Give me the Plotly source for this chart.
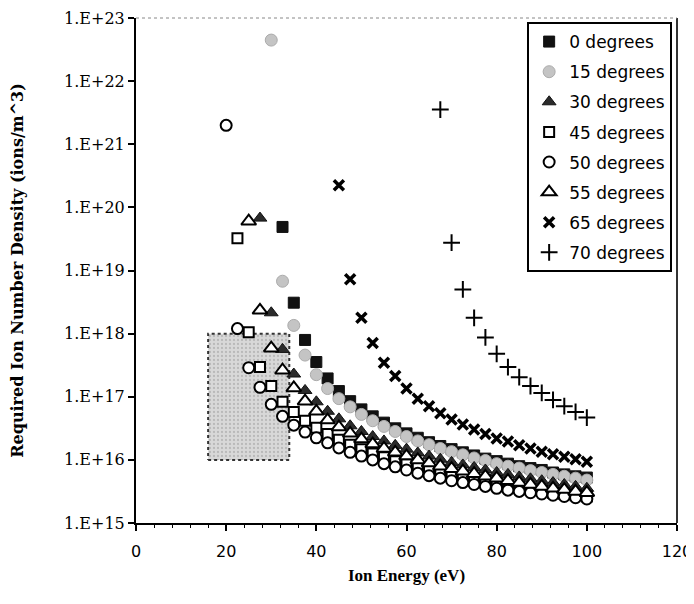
import plotly.graph_objects as go

# Ion energy grid (eV) used by all series; each series covers the tail of this grid
ENERGY = [20.0, 22.5, 25.0, 27.5, 30.0, 32.5, 35.0, 37.5, 40.0, 42.5, 45.0, 47.5,
          50.0, 52.5, 55.0, 57.5, 60.0, 62.5, 65.0, 67.5, 70.0, 72.5, 75.0, 77.5,
          80.0, 82.5, 85.0, 87.5, 90.0, 92.5, 95.0, 97.5, 100.0]

SERIES_NAMES = ["0 degrees", "15 degrees", "30 degrees", "45 degrees",
                "50 degrees", "55 degrees", "65 degrees", "70 degrees"]

# log10 of required ion number density (ions/m^3)
LOG_DENSITY_0 = [19.69, 18.49, 17.90, 17.55, 17.29, 17.09, 16.93, 16.80, 16.69, 16.59,
                 16.50, 16.42, 16.35, 16.28, 16.22, 16.17, 16.12, 16.07, 16.02, 15.98,
                 15.94, 15.90, 15.87, 15.84, 15.80, 15.77, 15.74, 15.72]
LOG_DENSITY_15 = [22.65, 18.83, 18.13, 17.66, 17.35, 17.13, 16.97, 16.84, 16.72, 16.62,
                  16.53, 16.45, 16.37, 16.30, 16.24, 16.18, 16.13, 16.08, 16.03, 15.99,
                  15.94, 15.90, 15.87, 15.83, 15.80, 15.77, 15.74, 15.71, 15.68]
LOG_DENSITY_30 = [19.83, 18.33, 17.75, 17.36, 17.10, 16.92, 16.77, 16.65, 16.54, 16.45,
                  16.37, 16.30, 16.23, 16.17, 16.11, 16.06, 16.01, 15.96, 15.92, 15.88,
                  15.84, 15.80, 15.77, 15.73, 15.70, 15.67, 15.64, 15.61, 15.58, 15.55]
LOG_DENSITY_45 = [19.51, 18.02, 17.47, 17.17, 16.92, 16.76, 16.62, 16.51, 16.41, 16.32,
                  16.24, 16.17, 16.10, 16.04, 15.98, 15.93, 15.88, 15.83, 15.79, 15.75,
                  15.71, 15.68, 15.64, 15.61, 15.58, 15.56, 15.53, 15.51, 15.48, 15.46,
                  15.44, 15.42]
LOG_DENSITY_50 = [21.30, 18.08, 17.46, 17.15, 16.88, 16.69, 16.55, 16.44, 16.35, 16.27,
                  16.19, 16.12, 16.06, 16.00, 15.94, 15.89, 15.84, 15.79, 15.75, 15.71,
                  15.67, 15.64, 15.61, 15.58, 15.55, 15.52, 15.50, 15.48, 15.46, 15.44,
                  15.42, 15.40, 15.38]
LOG_DENSITY_55 = [19.78, 18.37, 17.77, 17.42, 17.14, 16.93, 16.77, 16.63, 16.52, 16.42,
                  16.33, 16.25, 16.18, 16.12, 16.06, 16.00, 15.95, 15.90, 15.86, 15.82,
                  15.78, 15.74, 15.71, 15.67, 15.64, 15.61, 15.58, 15.55, 15.53, 15.50,
                  15.48]
LOG_DENSITY_65 = [20.35, 18.86, 18.25, 17.85, 17.54, 17.33, 17.13, 16.97, 16.85, 16.74,
                  16.64, 16.56, 16.48, 16.41, 16.34, 16.29, 16.23, 16.18, 16.13, 16.09,
                  16.05, 16.01, 15.97]
LOG_DENSITY_70 = [21.55, 19.44, 18.70, 18.25, 17.94, 17.68, 17.47, 17.31, 17.17, 17.06,
                  16.95, 16.85, 16.76, 16.67]

# Highlighted region (grey box)
BOX_ENERGY = [16.0, 34.0]
BOX_DENSITY = [1e16, 1e18]

Y_TICK_VALUES = [1e15, 1e16, 1e17, 1e18, 1e19, 1e20, 1e21, 1e22, 1e23]
Y_TICK_TEXT = ["1.E+15", "1.E+16", "1.E+17", "1.E+18", "1.E+19", "1.E+20",
               "1.E+21", "1.E+22", "1.E+23"]
X_TICK_VALUES = [0, 20, 40, 60, 80, 100, 120]

ALL_LOGS = [LOG_DENSITY_0, LOG_DENSITY_15, LOG_DENSITY_30, LOG_DENSITY_45,
            LOG_DENSITY_50, LOG_DENSITY_55, LOG_DENSITY_65, LOG_DENSITY_70]

STYLES = [
    dict(symbol="square", size=11, color="#111111", line=dict(color="#111111", width=1)),
    dict(symbol="circle", size=12, color="#c4c4c4", line=dict(color="#ababab", width=1)),
    dict(symbol="triangle-up", size=12, color="#2b2b2b", line=dict(color="#111111", width=1)),
    dict(symbol="square", size=10, color="white", line=dict(color="black", width=2)),
    dict(symbol="circle", size=11, color="white", line=dict(color="black", width=2)),
    dict(symbol="triangle-up", size=13, color="white", line=dict(color="black", width=2)),
    dict(symbol="x-thin", size=10, color="black", line=dict(color="black", width=3.5)),
    dict(symbol="cross-thin", size=12, color="black", line=dict(color="black", width=2)),
]

fig = go.Figure()

# grey highlighted box
fig.add_trace(go.Scatter(
    x=[BOX_ENERGY[0], BOX_ENERGY[1], BOX_ENERGY[1], BOX_ENERGY[0], BOX_ENERGY[0]],
    y=[BOX_DENSITY[0], BOX_DENSITY[0], BOX_DENSITY[1], BOX_DENSITY[1], BOX_DENSITY[0]],
    mode="lines", fill="toself",
    fillcolor="#d4d4d4",
    fillpattern=dict(shape=".", bgcolor="#d8d8d8", fgcolor="#9a9a9a", size=4, solidity=0.25),
    line=dict(color="#333333", width=2, dash="dot"),
    showlegend=False, hoverinfo="skip",
))

for name, logs, st in zip(SERIES_NAMES, ALL_LOGS, STYLES):
    xs = ENERGY[len(ENERGY) - len(logs):]
    ys = [10 ** v for v in logs]
    fig.add_trace(go.Scatter(
        x=xs, y=ys, mode="markers", name=name, legendgroup=name,
        marker=st,
    ))

# The page body has an 8px margin, so the figure is drawn 8px in from the window corner.
fig.update_layout(
    width=686, height=596,
    margin=dict(l=128, r=17, t=10, b=81, autoexpand=False),
    paper_bgcolor="white", plot_bgcolor="white",
    showlegend=True,
    legend=dict(
        x=0.723, y=0.992, xanchor="left", yanchor="top",
        bgcolor="white", bordercolor="black", borderwidth=2,
        font=dict(family="DejaVu Sans", size=17, color="black"),
        traceorder="grouped", tracegroupgap=5, itemwidth=30,
    ),
    shapes=[
        dict(type="line", xref="paper", yref="paper", x0=1, x1=1, y0=0, y1=1,
             line=dict(color="#333333", width=2), layer="below"),
        dict(type="line", xref="paper", yref="paper", x0=0, x1=1, y0=1, y1=1,
             line=dict(color="#888888", width=1, dash="dot"), layer="below"),
    ],
    xaxis=dict(
        range=[0, 120], tickvals=X_TICK_VALUES, ticks="outside", ticklen=6,
        tickwidth=1.5, tickcolor="black", automargin=False, ticklabelstandoff=7,
        minor=dict(dtick=4, ticks="outside", ticklen=3, tickcolor="black", tickwidth=1),
        showline=True, linecolor="black", linewidth=2, mirror=False,
        showgrid=False, zeroline=False,
        tickfont=dict(family="DejaVu Sans", size=16, color="black"),
        title=dict(text="<b>Ion Energy (eV)</b>", standoff=9,
                   font=dict(family="Liberation Serif", size=17, color="black")),
    ),
    xaxis2=dict(
        overlaying="x", matches="x", anchor="y", side="bottom",
        tickvals=X_TICK_VALUES, ticks="inside", ticklen=6, tickwidth=1.5,
        tickcolor="black", showticklabels=False, showline=False, showgrid=False,
        zeroline=False, automargin=False,
    ),
    yaxis=dict(
        type="log", range=[15, 23], tickvals=Y_TICK_VALUES, ticktext=Y_TICK_TEXT,
        ticks="outside", ticklen=6, tickwidth=1.5, tickcolor="black", automargin=False,
        showline=True, linecolor="black", linewidth=2, mirror=False,
        showgrid=False, zeroline=False,
        tickfont=dict(family="DejaVu Serif", size=16, color="black"),
        title=dict(text="<b>Required Ion Number Density (ions/m^3)</b>", standoff=38,
                   font=dict(family="DejaVu Serif", size=16, color="black")),
    ),
)

fig.write_html("out.html")
